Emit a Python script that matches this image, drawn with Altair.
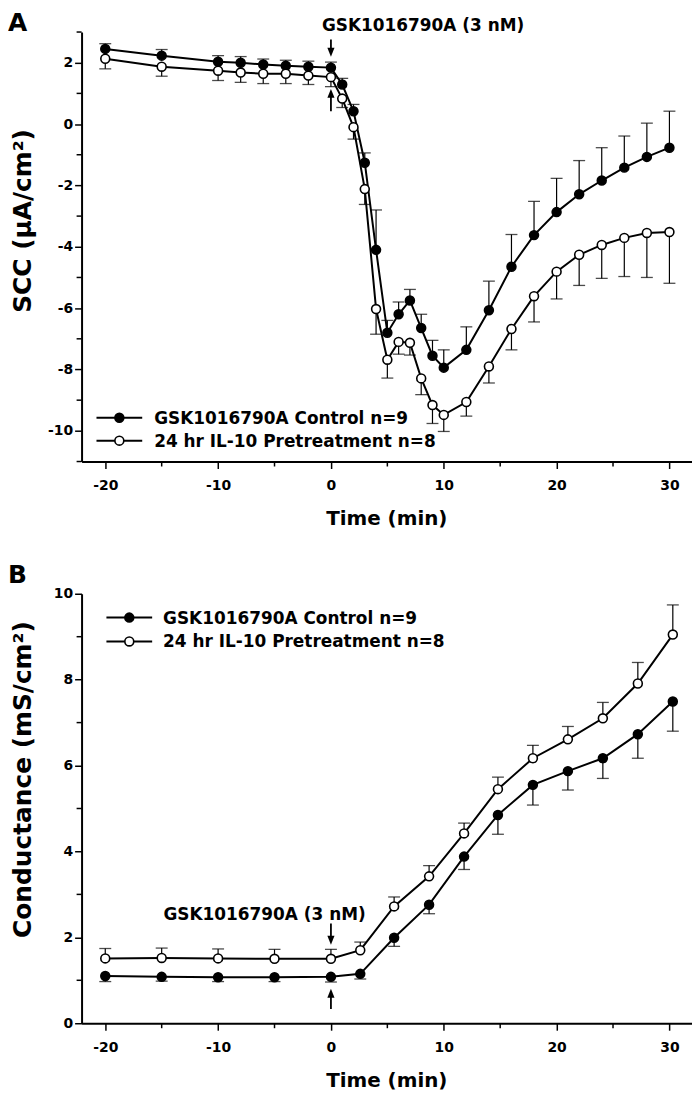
import altair as alt
import pandas as pd

FONT = "DejaVu Sans"

# ---------------- Panel A : short-circuit current ----------------
a_time = [-20, -15, -10, -8, -6, -4, -2, 0, 1, 2, 3, 4, 5, 6, 7, 8, 9, 10,
          12, 14, 16, 18, 20, 22, 24, 26, 28, 30]
a_ctrl = [2.45, 2.23, 2.03, 2.0, 1.94, 1.9, 1.87, 1.84, 1.29, 0.42, -1.26, -4.1,
          -6.8, -6.2, -5.75, -6.65, -7.55, -7.94, -7.36, -6.07, -4.65, -3.62,
          -2.87, -2.29, -1.84, -1.42, -1.07, -0.77]
a_ctrl_err = [0.17, 0.2, 0.2, 0.2, 0.18, 0.18, 0.18, 0.18, 0.2, 0.22, 0.32, 1.3,
              0.4, 0.4, 0.36, 0.45, 0.5, 0.58, 0.75, 0.95, 1.05, 1.1, 1.1, 1.1,
              1.07, 1.03, 1.1, 1.19]
a_il10 = [2.13, 1.87, 1.74, 1.68, 1.64, 1.64, 1.58, 1.53, 0.83, -0.1, -2.12, -6.03,
          -7.68, -7.1, -7.13, -8.29, -9.16, -9.48, -9.06, -7.9, -6.68, -5.61,
          -4.81, -4.26, -3.94, -3.71, -3.55, -3.52]
a_il10_err = [0.33, 0.31, 0.32, 0.32, 0.32, 0.32, 0.29, 0.31, 0.29, 0.39, 0.5, 0.82,
              0.6, 0.4, 0.4, 0.53, 0.6, 0.54, 0.46, 0.54, 0.68, 0.84, 0.89, 1.0,
              1.09, 1.26, 1.45, 1.67]

# ---------------- Panel B : conductance ----------------
b_time = [-20, -15, -10, -5, 0, 2.6, 5.6, 8.7, 11.8, 14.8, 17.9, 21.0, 24.1, 27.2, 30.3]
b_ctrl = [1.1, 1.08, 1.07, 1.07, 1.08, 1.15, 1.99, 2.76, 3.88, 4.85, 5.55, 5.87,
          6.17, 6.73, 7.49]
b_ctrl_err = [0.13, 0.1, 0.1, 0.1, 0.12, 0.12, 0.2, 0.21, 0.3, 0.45, 0.47, 0.44,
              0.47, 0.56, 0.69]
b_il10 = [1.51, 1.52, 1.51, 1.5, 1.5, 1.7, 2.72, 3.42, 4.42, 5.45, 6.17, 6.61,
          7.1, 7.91, 9.05]
b_il10_err = [0.23, 0.23, 0.22, 0.22, 0.22, 0.19, 0.22, 0.25, 0.24, 0.28, 0.3, 0.3,
              0.37, 0.49, 0.69]

groups = ["GSK1016790A Control n=9", "24 hr IL-10 Pretreatment n=8"]
annotation = "GSK1016790A (3 nM)"
x_title = "Time (min)"

x_major = [-20, -10, 0, 10, 20, 30]
x_minor = [-15, -5, 5, 15, 25]
a_y_major = [-10, -8, -6, -4, -2, 0, 2]
a_y_minor = [-11, -9, -7, -5, -3, -1, 1, 3]
b_y_major = [0, 2, 4, 6, 8, 10]
b_y_minor = [1, 3, 5, 7, 9]

W, H = 614, 432
TXT = 17
HEAD_DOWN = "M-0.8,-1L0,1L0.8,-1Z"
HEAD_UP = "M-0.8,1L0,-1L0.8,1Z"


def series(time, vals, errs, group, direction):
    return pd.DataFrame({
        "t": time, "v": vals,
        "end": [v + direction * e for v, e in zip(vals, errs)],
        "g": group,
    })


def panel(df, xdom, ydom, ymaj, ymin, ytitle, ytitle_y, letter, letter_y,
          legend_pos, annot, arrows):
    xs = alt.Scale(domain=xdom, nice=False, zero=False)
    ys = alt.Scale(domain=ydom, nice=False, zero=False)
    xaxis = alt.Axis(values=x_major, labelExpr="'' + datum.value", tickSize=7,
                     title=None, labelPadding=10, labelFlush=False)
    yaxis = alt.Axis(values=ymaj, labelExpr="'' + datum.value", tickSize=7,
                     title=None, labelPadding=2)
    base = alt.Chart(df)
    fill = alt.Fill("g:N", scale=alt.Scale(domain=groups, range=["black", "white"]),
                    legend=None)

    # the only layer that carries the axes
    line = base.mark_line(color="black", strokeWidth=2).encode(
        x=alt.X("t:Q", scale=xs, axis=xaxis),
        y=alt.Y("v:Q", scale=ys, axis=yaxis),
        detail="g:N")
    Xp = alt.X("t:Q", scale=xs)
    Yp = alt.Y("v:Q", scale=ys)
    err = base.mark_rule(color="black", strokeWidth=1.2).encode(x=Xp, y=Yp, y2="end:Q")
    cap = base.mark_tick(orient="horizontal", size=12, thickness=1.3, color="black").encode(
        x=Xp, y=alt.Y("end:Q", scale=ys))
    pts = base.mark_point(filled=True, shape="circle", size=80, stroke="black",
                          strokeWidth=1.6, opacity=1).encode(x=Xp, y=Yp, fill=fill)

    xm = alt.Chart(pd.DataFrame({"m": x_minor})).mark_rule(
        color="black", strokeWidth=1.5).encode(
        x=alt.X("m:Q", scale=xs), y=alt.value(H), y2=alt.value(H + 5))
    ym = alt.Chart(pd.DataFrame({"m": ymin})).mark_rule(
        color="black", strokeWidth=1.5).encode(
        y=alt.Y("m:Q", scale=ys), x=alt.value(0), x2=alt.value(-5))

    one = alt.Chart(pd.DataFrame({"k": [0]}))
    lx0, lx1, ltx, ly = legend_pos
    leg = []
    for i, g in enumerate(groups):
        yy = ly[i]
        leg.append(one.mark_rule(color="black", strokeWidth=2).encode(
            x=alt.value(lx0), x2=alt.value(lx1), y=alt.value(yy)))
        leg.append(one.mark_point(filled=True, shape="circle", size=80, stroke="black",
                                  strokeWidth=1.6, opacity=1,
                                  fill=("black" if i == 0 else "white")).encode(
            x=alt.value((lx0 + lx1) / 2), y=alt.value(yy)))
        leg.append(one.mark_text(text=g, align="left", baseline="middle", fontSize=TXT,
                                 fontWeight="bold", font=FONT, color="black").encode(
            x=alt.value(ltx), y=alt.value(yy + 1)))

    ay_val, ay_px, adx, aalign = annot
    ann_y = alt.value(ay_px) if ay_px is not None else alt.YDatum(ay_val, scale=ys)
    ann = one.mark_text(text=annotation, align=aalign, baseline="alphabetic", dx=adx,
                        fontSize=TXT, fontWeight="bold", font=FONT,
                        color="black").encode(x=alt.XDatum(0, scale=xs), y=ann_y)

    arr = []
    for (tail, head, shp) in arrows:
        arr.append(one.mark_rule(color="black", strokeWidth=1.8).encode(
            x=alt.XDatum(0, scale=xs),
            y=alt.YDatum(tail, scale=ys), y2=alt.Y2Datum(head)))
        arr.append(one.mark_point(filled=True, shape=shp, size=81, color="black",
                                  strokeWidth=0, opacity=1).encode(
            x=alt.XDatum(0, scale=xs), y=alt.YDatum(head, scale=ys)))

    lab = one.mark_text(text=letter, align="left", baseline="alphabetic", fontSize=25,
                        fontWeight="bold", font=FONT, color="black").encode(
        x=alt.value(-74), y=alt.value(letter_y))

    yt = one.mark_text(text=ytitle, angle=270, align="center", baseline="middle",
                       fontSize=25, fontWeight="bold", font=FONT, color="black").encode(
        x=alt.value(-58.5), y=alt.value(ytitle_y))
    xt = one.mark_text(text=x_title, align="center", baseline="middle",
                       fontSize=20, fontWeight="bold", font=FONT, color="black").encode(
        x=alt.value(W / 2), y=alt.value(H + 58))

    return alt.layer(line, err, cap, pts, xm, ym, *leg, ann, *arr, lab, yt, xt).properties(
        width=W, height=H)


dfA = pd.concat([series(a_time, a_ctrl, a_ctrl_err, groups[0], 1),
                 series(a_time, a_il10, a_il10_err, groups[1], -1)])
dfB = pd.concat([series(b_time, b_ctrl, b_ctrl_err, groups[0], -1),
                 series(b_time, b_il10, b_il10_err, groups[1], 1)])

chartA = panel(dfA, [-22.1, 32], [-11, 3], a_y_major, a_y_minor,
               "SCC (µA/cm²)", 190, "A", -1,
               (15, 61, 73, (388, 411)),
               (None, -1, -9, "left"),
               [(2.76, 2.34, HEAD_DOWN), (0.42, 1.0, HEAD_UP)])
chartB = panel(dfB, [-22.1, 32], [0, 10], b_y_major, b_y_minor,
               "Conductance (mS/cm²)", 187, "B", -11,
               (25, 71, 82, (24, 48)),
               (2.41, None, 35, "right"),
               [(2.32, 1.93, HEAD_DOWN), (0.33, 0.70, HEAD_UP)])

chart = alt.vconcat(chartA, chartB, spacing=133, bounds="flush").properties(
    padding=0
).configure(font=FONT).configure_view(stroke=None).configure_axis(
    grid=False, domainColor="black", domainWidth=2, tickColor="black", tickWidth=1.5,
    labelFont=FONT, labelFontWeight="bold", labelFontSize=14, labelColor="black",
)

chart.save("out.html", embed_options={"renderer": "svg", "actions": False})
